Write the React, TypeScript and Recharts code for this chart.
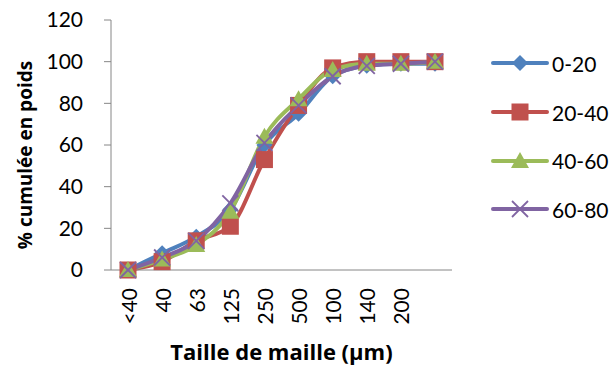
import { LineChart, Line, XAxis, YAxis, Legend } from 'recharts';

// mesh sizes (last category has no label in the original)
const sizes = ['<40', '40', '63', '125', '250', '500', '100', '140', '200', ''];

// % cumulée en poids per depth
const s0_20 = [0, 8, 16, 29, 60, 75, 93, 98, 99, 99];
const s20_40 = [0, 4, 14, 21, 53, 79, 97, 100, 100, 100];
const s40_60 = [0, 5, 12, 28, 64, 82, 96, 99, 99, 100];
const s60_80 = [0, 6, 14, 32, 61, 79, 93, 98, 99, 100];

const yTicks = [0, 20, 40, 60, 80, 100, 120];

const FONT = "Lato, 'Open Sans', sans-serif";
const TITLE_FONT = "'Open Sans', Lato, sans-serif";

const PLOT_TOP = 20;
const PLOT_H = 250;

type Shape = 'diamond' | 'square' | 'triangle' | 'cross';

const series: { key: string; name: string; color: string; shape: Shape }[] = [
  { key: 'a', name: '0-20', color: '#4F81BD', shape: 'diamond' },
  { key: 'b', name: '20-40', color: '#C0504D', shape: 'square' },
  { key: 'c', name: '40-60', color: '#9BBB59', shape: 'triangle' },
  { key: 'd', name: '60-80', color: '#8064A2', shape: 'cross' },
];

const data = sizes.map((s, i) => ({
  size: s,
  a: s0_20[i],
  b: s20_40[i],
  c: s40_60[i],
  d: s60_80[i],
}));

const Marker = ({ cx, cy, color, shape }: { cx: number; cy: number; color: string; shape: Shape }) => {
  if (shape === 'diamond') {
    const r = 8;
    return <polygon points={`${cx},${cy - r} ${cx + r},${cy} ${cx},${cy + r} ${cx - r},${cy}`} fill={color} />;
  }
  if (shape === 'square') {
    const r = 8.5;
    return <rect x={cx - r} y={cy - r} width={r * 2} height={r * 2} fill={color} />;
  }
  if (shape === 'triangle') {
    return <polygon points={`${cx},${cy - 9} ${cx + 9},${cy + 7} ${cx - 9},${cy + 7}`} fill={color} />;
  }
  const r = 8;
  return (
    <g stroke={color} strokeWidth={1.8}>
      <line x1={cx - r} y1={cy - r} x2={cx + r} y2={cy + r} />
      <line x1={cx - r} y1={cy + r} x2={cx + r} y2={cy - r} />
    </g>
  );
};

const XTick = ({ x, y, payload }: any) => (
  <text
    x={x}
    y={y}
    transform={`rotate(-90 ${x} ${y})`}
    textAnchor="end"
    dominantBaseline="central"
    fontFamily={FONT}
    fontSize={21}
    fill="#000"
  >
    {payload.value}
  </text>
);

// axis titles
const XTitle = ({ viewBox }: any) => (
  <text
    x={viewBox.x + viewBox.width / 2}
    y={viewBox.y + viewBox.height - 7}
    textAnchor="middle"
    fontFamily={TITLE_FONT}
    fontSize={22}
    fontWeight={700}
    fill="#000"
  >
    Taille de maille (µm)
  </text>
);

const YTitle = () => {
  const x = 25;
  const y = PLOT_TOP + PLOT_H / 2 + 10;
  return (
    <text
      x={x}
      y={y}
      transform={`rotate(-90 ${x} ${y})`}
      textAnchor="middle"
      dominantBaseline="central"
      fontFamily={TITLE_FONT}
      fontSize={19}
      fontWeight={700}
      fill="#000"
    >
      % cumulée en poids
    </text>
  );
};

const renderLegend = () => (
  <div style={{ fontFamily: FONT, fontSize: 21, color: '#000' }}>
    {series.map((s) => (
      <div key={s.key} style={{ display: 'flex', alignItems: 'center', height: 48.7 }}>
        <svg width={60} height={24}>
          <line x1={3} y1={12} x2={57} y2={12} stroke={s.color} strokeWidth={4} strokeLinecap="round" />
          <Marker cx={30} cy={12} color={s.color} shape={s.shape} />
        </svg>
        <span style={{ marginLeft: 2 }}>{s.name}</span>
      </div>
    ))}
  </div>
);

export default function App() {
  return (
    <div style={{ position: 'absolute', left: 0, top: 0, background: '#fff' }}>
      <LineChart width={615} height={367} data={data} margin={{ top: PLOT_TOP, right: 163, left: 0, bottom: 0 }}>
        <XAxis
          dataKey="size"
          padding={{ left: 17, right: 17 }}
          height={97}
          stroke="#868686"
          tickLine={false}
          tickSize={0}
          tickMargin={18}
          tick={<XTick />}
          interval={0}
          label={{ content: XTitle }}
        />
        <YAxis
          width={111}
          domain={[0, 120]}
          ticks={yTicks}
          stroke="#868686"
          tickSize={7}
          tickMargin={21}
          tick={{ fill: '#000', fontFamily: FONT, fontSize: 21 }}
          label={{ content: YTitle }}
        />
        <Legend
          layout="vertical"
          align="center"
          verticalAlign="middle"
          content={renderLegend}
          wrapperStyle={{ left: 490, top: 39, width: 125 }}
        />
        {series.map((s) => (
          <Line
            key={s.key}
            type="monotone"
            dataKey={s.key}
            name={s.name}
            stroke={s.color}
            strokeWidth={4}
            isAnimationActive={false}
            dot={(p: any) => <Marker key={`${s.key}-${p.index}`} cx={p.cx} cy={p.cy} color={s.color} shape={s.shape} />}
            activeDot={false}
          />
        ))}
      </LineChart>
    </div>
  );
}
